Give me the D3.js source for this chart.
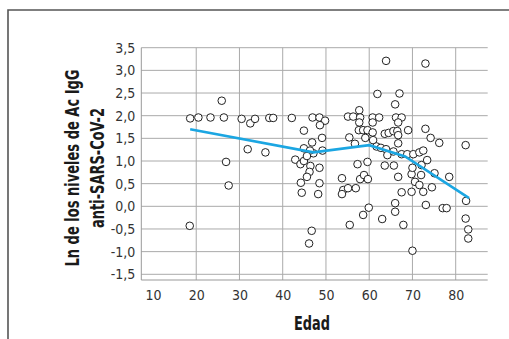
<!DOCTYPE html>
<html>
<head>
<meta charset="utf-8">
<script src="https://cdn.jsdelivr.net/npm/d3@7"></script>
<style>
  body { margin: 0; background: #fff; }
  text { font-family: "Liberation Sans Narrow", "DejaVu Sans Condensed", sans-serif; }
</style>
</head>
<body>
<svg id="chart"></svg>
<script>
// scatter: age vs ln(IgG)
const ages = [18.6, 20.5, 23.3, 25.9, 26.4, 26.9, 27.5, 18.5, 30.5, 32.5, 33.6, 31.9, 36.0, 36.9, 37.8, 42.1,
  44.9, 44.9, 42.9, 44.1, 44.9, 44.2, 44.4, 46.9, 48.5, 49.8, 48.6, 49.1, 46.8, 47.1, 46.3, 45.6, 49.2, 46.4, 46.2, 45.6, 48.5, 48.5, 48.2, 46.7, 46.1,
  55.1, 56.3, 57.7, 57.9, 57.7, 55.4, 56.7, 57.6, 58.6, 59.6, 59.1, 57.3, 59.6, 53.7, 54.0, 53.7, 55.1, 56.9, 57.9, 58.8, 59.7, 59.9, 58.6, 55.5,
  60.8, 62.3, 60.8, 60.8, 60.9, 61.9, 63.9, 61.7, 62.7, 63.9, 64.2, 63.6, 63.0, 63.6, 64.5, 65.6,
  66.0, 67.0, 66.2, 67.5, 66.7, 66.5, 66.7, 69.0, 66.7, 65.6, 67.5, 68.8, 65.7, 66.7, 67.5, 66.0, 66.0, 67.9, 70.0,
  69.8, 69.8, 70.0, 70.2, 70.6, 71.6, 72.0, 72.1, 71.6, 72.5, 73.4, 72.5, 73.1, 73.0, 73.0, 74.2, 74.5, 75.1, 76.2, 77.0, 77.9, 78.5,
  82.3, 82.4, 82.3, 82.9, 82.9];
const lnValues = [1.94, 1.96, 1.96, 2.33, 1.96, 0.98, 0.46, -0.43, 1.93, 1.83, 1.93, 1.26, 1.19, 1.95, 1.95, 1.95,
  1.67, 1.28, 1.03, 0.93, 1.0, 0.52, 0.30, 1.96, 1.96, 1.89, 1.79, 1.51, 1.41, 1.17, 1.23, 1.11, 1.23, 0.89, 0.76, 0.65, 0.85, 0.51, 0.27, -0.54, -0.82,
  1.98, 1.98, 2.12, 1.96, 1.85, 1.52, 1.38, 1.68, 1.68, 1.68, 1.51, 0.93, 0.98, 0.62, 0.36, 0.27, 0.40, 0.40, 0.60, 0.69, 0.60, -0.03, -0.19, -0.41,
  1.96, 1.96, 1.85, 1.63, 1.46, 2.48, 3.21, 1.32, 1.29, 1.26, 1.13, 0.90, -0.28, 1.60, 1.62, 1.66,
  2.25, 2.49, 1.96, 1.96, 1.85, 1.66, 1.57, 1.68, 1.39, 1.21, 1.15, 1.15, 0.90, 0.65, 0.31, 0.07, -0.12, -0.41, -0.98,
  0.32, 0.71, 0.85, 1.15, 0.54, 0.47, 0.69, 0.91, 1.19, 1.23, 1.02, 0.32, 0.03, 1.71, 3.15, 1.51, 0.42, 0.73, 1.40, -0.04, -0.04, 0.65,
  1.35, 0.12, -0.27, -0.51, -0.71];

// fitted trend line
const trendAges = [18.6, 47.1, 60.0, 68.3, 83.1];
const trendValues = [1.70, 1.19, 1.35, 1.10, 0.18];

const xTicks = [10, 20, 30, 40, 50, 60, 70, 80];
const xGrid = [20, 30, 40, 50, 60, 70, 80];
const yTicks = [-1.5, -1.0, -0.5, 0, 0.5, 1.0, 1.5, 2.0, 2.5, 3.0, 3.5];
const yTickLabels = ["-1,5", "-1,0", "-0,5", "0,0", "0,5", "1,0", "1,5", "2,0", "2,5", "3,0", "3,5"];

const W = 509, H = 339;
const margin = { top: 47.7, left: 141.3 };
const width = 346.4, height = 232.3;

const svg = d3.select("#chart").attr("width", W).attr("height", H);

// outer frame (top + left edges only)
svg.append("path")
  .attr("d", `M8,${H} L8,10 L${W},10`)
  .attr("fill", "none")
  .attr("stroke", "#555")
  .attr("stroke-width", 1.6);

const g = svg.append("g")
  .attr("transform", `translate(${margin.left},${margin.top})`);

const x = d3.scaleLinear([7.3, 87.4], [0, width]);
const y = d3.scaleLinear([-1.5, 3.5], [226.6, 0]);

// grid
g.selectAll(".hgrid").data(yTicks).enter().append("line")
  .attr("x1", 0).attr("x2", width)
  .attr("y1", d => y(d)).attr("y2", d => y(d))
  .attr("stroke", "#aaa").attr("stroke-width", 1);
g.selectAll(".vgrid").data(xGrid).enter().append("line")
  .attr("x1", d => x(d)).attr("x2", d => x(d))
  .attr("y1", 0).attr("y2", height)
  .attr("stroke", "#aaa").attr("stroke-width", 1);

// axis lines
g.append("line").attr("x1", 0).attr("x2", 0).attr("y1", 0).attr("y2", height)
  .attr("stroke", "#999").attr("stroke-width", 1);
g.append("line").attr("x1", 0).attr("x2", width).attr("y1", height).attr("y2", height)
  .attr("stroke", "#999").attr("stroke-width", 1);

// axes (labels only)
const yAxis = d3.axisLeft(y).tickValues(yTicks).tickSize(0).tickPadding(6)
  .tickFormat((d, i) => yTickLabels[i]);
const yg = g.append("g").call(yAxis);
yg.select(".domain").remove();
yg.selectAll("text").attr("font-size", 14).attr("fill", "#333")
  .attr("font-family", "Liberation Sans Narrow, DejaVu Sans Condensed, sans-serif");

const xAxis = d3.axisBottom(x).tickValues(xTicks).tickSize(0).tickPadding(10.5);
const xg = g.append("g").attr("transform", `translate(0,${height})`).call(xAxis);
xg.select(".domain").remove();
xg.selectAll("text").attr("font-size", 14).attr("fill", "#333")
  .attr("font-family", "Liberation Sans Narrow, DejaVu Sans Condensed, sans-serif");

// points
g.selectAll(".dot").data(ages).enter().append("circle")
  .attr("cx", d => x(d))
  .attr("cy", (d, i) => y(lnValues[i]))
  .attr("r", 3.8)
  .attr("fill", "#fff")
  .attr("stroke", "#222")
  .attr("stroke-width", 1);

// trend
const line = d3.line().x(d => x(d[0])).y(d => y(d[1]));
g.append("path")
  .datum(trendAges.map((a, i) => [a, trendValues[i]]))
  .attr("fill", "none")
  .attr("stroke", "#1ba6e2")
  .attr("stroke-width", 2.6)
  .attr("d", line);

// axis titles (squeezed to match the condensed face)
svg.append("text")
  .attr("x", 294).attr("y", 330)
  .attr("font-size", 19).attr("font-weight", "bold").attr("fill", "#1a1a1a")
  .attr("textLength", 36).attr("lengthAdjust", "spacingAndGlyphs")
  .text("Edad");

const yt = svg.append("text")
  .attr("transform", "translate(0,168) rotate(-90)")
  .attr("font-size", 19).attr("font-weight", "bold").attr("fill", "#1a1a1a");
yt.append("tspan").attr("x", -98.5).attr("y", 79)
  .attr("textLength", 197).attr("lengthAdjust", "spacingAndGlyphs")
  .text("Ln de los niveles de Ac IgG");
yt.append("tspan").attr("x", -60).attr("y", 104)
  .attr("textLength", 120).attr("lengthAdjust", "spacingAndGlyphs")
  .text("anti-SARS-CoV-2");
</script>
</body>
</html>
